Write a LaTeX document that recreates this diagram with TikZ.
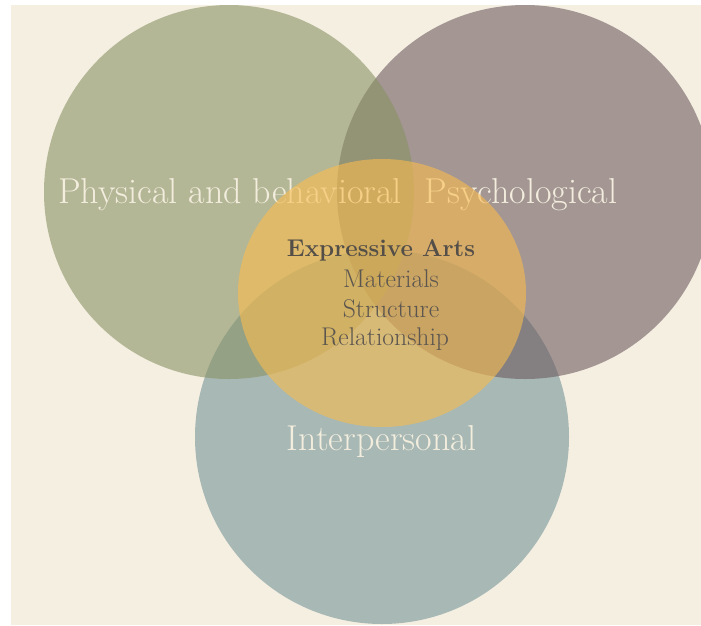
\documentclass[tikz,border=0pt]{standalone}
\usepackage{fontspec}
\definecolor{bgcream}{RGB}{245,239,226}
\definecolor{cgreen}{RGB}{137,146,100}
\definecolor{cbrown}{RGB}{109,91,95}
\definecolor{cblue}{RGB}{116,148,151}
\definecolor{corange}{RGB}{250,188,78}
\definecolor{labelcream}{RGB}{243,237,222}
\definecolor{innergray}{RGB}{92,86,80}
\tikzset{
  venn/.style={fill opacity=0.6},
  outerlabel/.style={text=labelcream, font=\fontsize{36}{43}\selectfont, inner sep=0pt, anchor=base},
  innerlabel/.style={text=innergray, font=\fontsize{25.6}{31}\selectfont, inner sep=0pt, anchor=base},
  titlelabel/.style={text=innergray!90!black, font=\fontsize{24.2}{29}\selectfont\bfseries, inner sep=0pt, anchor=base}
}
\begin{document}
\begin{tikzpicture}[x=1pt,y=-1pt]
\useasboundingbox (0,0) rectangle (701,625);
\clip (0,0) rectangle (701,625);
\fill[white] (0,0) rectangle (701,625);
\fill[bgcream] (11,5) rectangle (701,625);
\fill[cblue, venn] (382,437) ellipse [x radius=187, y radius=187];
\fill[cbrown, venn] (525,192) ellipse [x radius=188, y radius=187];
\fill[cgreen, venn] (229,192) ellipse [x radius=185, y radius=187];
\node[outerlabel] (phys) at (230,203) {Physical and behavioral};
\node[outerlabel] (psych) at (521,203) {Psychological};
\node[outerlabel] (inter) at (381.5,450) {Interpersonal};
\fill[corange, venn] (382,293) ellipse [x radius=144, y radius=134];
\node[titlelabel] (expr) at (381,256) {Expressive Arts};
\node[innerlabel] (mat) at (391,287) {Materials};
\node[innerlabel] (struc) at (391,317) {Structure};
\node[innerlabel] (rel) at (385,345) {Relationship};
\end{tikzpicture}
\end{document}
